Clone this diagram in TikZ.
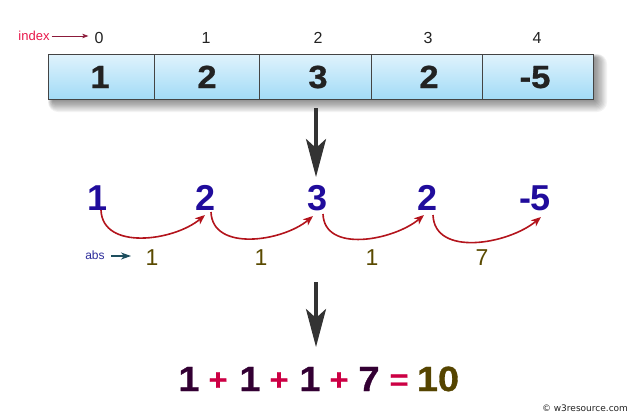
\documentclass[tikz,border=0pt]{standalone}
\usepackage{fontspec}
\setmainfont{Liberation Sans}
\newfontfamily\dejavu{DejaVu Sans}
\newfontfamily\heavy{Liberation Sans}[BoldFeatures={FakeBold=0.9,FakeStretch=1.08}]
\usetikzlibrary{arrows.meta}
\definecolor{celltop}{HTML}{E0F3FC}
\definecolor{cellbot}{HTML}{A2DBF7}
\definecolor{cellline}{HTML}{444444}
\definecolor{celltext}{HTML}{222222}
\definecolor{rowblue}{HTML}{200C9C}
\definecolor{arcred}{HTML}{B3141C}
\definecolor{absblue}{HTML}{2A2A9A}
\definecolor{absteal}{HTML}{1D4E5E}
\definecolor{olive}{HTML}{5A4A00}
\definecolor{eqnum}{HTML}{330033}
\definecolor{eqop}{HTML}{CC0044}
\definecolor{ten}{HTML}{554400}
\definecolor{idxred}{HTML}{E8174A}
\definecolor{idxarrow}{HTML}{8B1A3A}
\definecolor{downarrow}{HTML}{333333}
\begin{document}
\begin{tikzpicture}[x=1pt,y=1pt,
  cellbox/.style={draw=cellline,line width=0.9pt,top color=celltop,bottom color=cellbot,minimum height=45pt,inner sep=0pt},
  cellval/.style={inner sep=0pt,anchor=base,text=celltext,font=\heavy\fontsize{32}{32}\selectfont\bfseries},
  idx/.style={inner sep=0pt,anchor=base,text=celltext,font=\fontsize{16}{16}\selectfont},
  rowval/.style={inner sep=0pt,anchor=base,text=rowblue,font=\fontsize{36}{36}\selectfont\bfseries},
  absval/.style={inner sep=0pt,anchor=base,text=olive,font=\fontsize{23}{23}\selectfont},
  eqn/.style={inner sep=0pt,anchor=base,text=eqnum,font=\heavy\fontsize{35}{35}\selectfont\bfseries},
  eqo/.style={inner sep=0pt,anchor=base,text=eqop,font=\heavy\fontsize{30}{30}\selectfont\bfseries},
  jump/.style={draw=arcred,line width=1.6pt,-{Stealth[length=10pt,width=8pt,inset=3pt]}},
  bigdown/.style={draw=downarrow,line width=3.6pt,-{Stealth[length=38pt,width=20pt,inset=9pt]}}
]
\useasboundingbox (0,0) rectangle (639,-418);
% shadow of the array
\foreach \i in {1,...,10}{
  \fill[black,opacity=0.05,rounded corners=\i pt] (48+5-\i*0.5,-54-4+\i*0.4) rectangle (593+1+\i*1.3,-99-1-\i*1.2);
}
% cells
\node[cellbox,minimum width=106pt] (c0) at (101,-76.5) {};
\node[cellbox,minimum width=105pt] (c1) at (206.5,-76.5) {};
\node[cellbox,minimum width=112pt] (c2) at (315,-76.5) {};
\node[cellbox,minimum width=111pt] (c3) at (426.5,-76.5) {};
\node[cellbox,minimum width=111pt] (c4) at (537.5,-76.5) {};
\node[cellval] (v0) at (100,-88) {1};
\node[cellval] (v1) at (207,-88) {2};
\node[cellval] (v2) at (318,-88) {3};
\node[cellval] (v3) at (429,-88) {2};
\node[cellval] (v4) at (535,-88) {-5};
% index labels
\node[idx] (i0) at (99,-43.5) {0};
\node[idx] (i1) at (206,-43.5) {1};
\node[idx] (i2) at (318,-43.5) {2};
\node[idx] (i3) at (428,-43.5) {3};
\node[idx] (i4) at (537,-43.5) {4};
\node[inner sep=0pt,text=idxred,font=\fontsize{13}{13}\selectfont] (index) at (34,-36) {index};
\draw[idxarrow,line width=0.8pt,-{Stealth[length=6pt,width=4.5pt,inset=1.5pt]}] ([xshift=2pt]index.east) -- ([xshift=-6pt]i0.west |- index.east);
% first down arrow
\coordinate (d1s) at (316,-108);
\coordinate (d1e) at (316,-177);
\draw[bigdown] (d1s) -- (d1e);
% row of values
\node[rowval] (r0) at (98,-210) {1};
\node[rowval] (r1) at (206,-210) {2};
\node[rowval] (r2) at (318,-210) {3};
\node[rowval] (r3) at (428,-210) {2};
\node[rowval] (r4) at (535,-210) {-5};
% jumps
\draw[jump] ([xshift=3pt]r0.base) to[out=-88,in=-140] ([shift={(-1pt,-5pt)}]r1.base);
\draw[jump] ([shift={(5pt,-2pt)}]r1.base) to[out=-88,in=-140] ([shift={(-5pt,-6pt)}]r2.base);
\draw[jump] ([shift={(5pt,-4pt)}]r2.base) to[out=-88,in=-140] ([shift={(-4pt,-5pt)}]r3.base);
\draw[jump] ([shift={(5pt,-5pt)}]r3.base) to[out=-88,in=-140] ([shift={(6pt,-7pt)}]r4.base);
% abs labels
\node[inner sep=0pt,text=absblue,font=\fontsize{12}{12}\selectfont] (abs) at (95,-255) {abs};
\coordinate (absend) at (131,-256);
\draw[absteal,line width=1.1pt,-{Stealth[length=10pt,width=7pt,inset=3pt]}] ([xshift=6pt]abs.east |- absend) -- (absend);
\node[absval] (a0) at (152,-265) {1};
\node[absval] (a1) at (261,-265) {1};
\node[absval] (a2) at (372,-265) {1};
\node[absval] (a3) at (482,-265) {7};
% second down arrow
\coordinate (d2s) at (316,-282);
\coordinate (d2e) at (316,-347);
\draw[bigdown] (d2s) -- (d2e);
% equation
\node[eqn] (e0) at (189,-391) {1};
\node[eqo] (e1) at (218,-390) {+};
\node[eqn] (e2) at (250,-391) {1};
\node[eqo] (e3) at (279,-390) {+};
\node[eqn] (e4) at (310,-391) {1};
\node[eqo] (e5) at (339,-390) {+};
\node[eqn] (e6) at (369,-391) {7};
\node[eqo] (e7) at (399,-390) {=};
\node[eqn,text=ten] (e8) at (438,-391) {10};
% watermark
\node[inner sep=0pt,text=celltext,font=\dejavu\fontsize{9}{9}\selectfont] (wm) at (585,-408) {© w3resource.com};
\end{tikzpicture}
\end{document}
